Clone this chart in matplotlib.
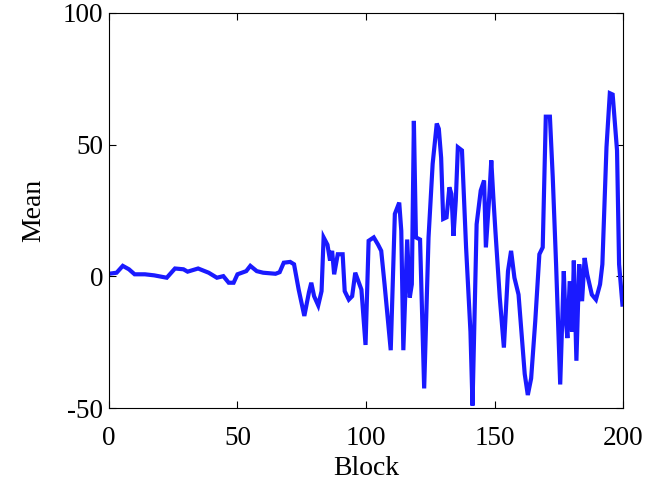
import matplotlib
matplotlib.use("Agg")
import matplotlib.pyplot as plt

# Block index and running mean per block
block = [0, 3, 5.4, 7.8, 10, 14, 17.6, 22.5, 25.7, 29, 30.6, 34.7, 38.8, 42, 44.5,
         46.6, 48.5, 50, 53.4, 55, 57.5, 60, 64.8, 66.4, 68, 70.5, 72, 73.8, 76,
         77.8, 78.7, 79.8, 81.4, 82.7, 83.5, 85, 86, 86.8, 87.6, 89, 90.9, 91.7,
         93.3, 94.6, 95.8, 97, 98.2, 99.8, 101, 103, 104.7, 105.9, 107.2, 109.6,
         111.2, 112.9, 113.7, 114.5, 116, 117, 117.8, 118.6, 119.4, 121, 122.6,
         124.3, 125.9, 127.5, 128.3, 129.2, 130, 131.3, 132.4, 133.2, 134, 134.9,
         135.7, 137.3, 138.9, 140.6, 141.4, 143, 144.6, 145.9, 146.6, 147.9, 148.7,
         149.5, 150.3, 152, 153.6, 155.2, 156.4, 157.7, 159.3, 161.7, 162.9, 164.2,
         165.8, 167.4, 168.7, 169.9, 171.5, 172.6, 173.9, 175.5, 176.9, 177.5,
         178.3, 179.2, 180.1, 180.8, 181.8, 182.9, 184, 185, 186, 187.8, 189.4,
         191, 191.9, 193.5, 194.8, 195.9, 197.6, 198.4, 199.7]
mean = [1, 1.4, 4, 2.7, 0.8, 0.8, 0.4, -0.5, 3, 2.7, 1.8, 3, 1.4, -0.5, 0.1,
        -2.4, -2.4, 0.8, 2, 4, 2, 1.4, 1, 1.6, 5.2, 5.5, 4.6, -5, -15,
        -6, -2.4, -7.5, -11, -5.6, 14.8, 12, 6, 9.7, 0.8, 8.4, 8.4, -5.6,
        -8.8, -7.5, 1.4, -1.8, -5, -26, 13.5, 14.8, 12, 9.7, -3, -28,
        23.7, 28, 17.3, -28, 14, -8, -3, 59, 14.8, 14, -42.5,
        14.8, 42.7, 58, 56, 45, 21.8, 22.4, 33.8, 31.3, 15.4, 28.8,
        49, 47.8, 11, -21, -49, 19.8, 32.6, 36.4, 11, 30, 44,
        30, 17.3, -8, -27, 2, 9.7, -0.5, -6.9, -37, -45, -38.7,
        -17, 8.4, 11, 60.6, 60.6, 37.7, 4.6, -41, 2, -14.5,
        -23.4, -1.8, -21, 6, -32, 4.6, -9.4, 7, 0.8, -6.9, -8.8,
        -3, 4.6, 49, 69.5, 69, 47.8, 4.6, -10.7]

plt.rcParams["font.family"] = ["Liberation Serif", "DejaVu Serif"]
plt.rcParams["axes.unicode_minus"] = False

fig = plt.figure(figsize=(6.56, 4.93), dpi=100)
ax = fig.add_axes([0.166, 0.172, 0.784, 0.802])
ax.plot(block, mean, color="#1a1aff", linewidth=3.0, solid_joinstyle="miter")

ax.set_xlim(0, 200)
ax.set_ylim(-50, 100)
ax.set_xticks([0, 50, 100, 150, 200])
ax.set_yticks([-50, 0, 50, 100])
ax.tick_params(direction="in", top=True, right=True, length=5, width=0.8,
               labelsize=19.5)
ax.tick_params(axis="x", pad=12.5)
ax.tick_params(axis="y", pad=4)
for s in ax.spines.values():
    s.set_linewidth(0.8)

ax.set_xlabel("Block", fontsize=20, labelpad=4)
ax.set_ylabel("Mean", fontsize=20, labelpad=12)

fig.savefig("out.png", dpi=100)
